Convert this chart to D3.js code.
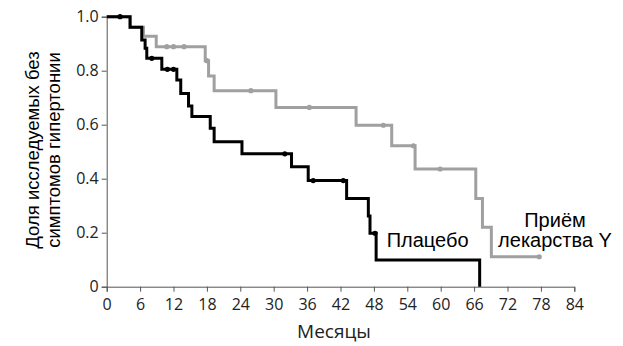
<!DOCTYPE html>
<html>
<head>
<meta charset="utf-8">
<script src="https://cdn.jsdelivr.net/npm/d3@7"></script>
<style>
  html, body { margin: 0; padding: 0; background: #fff; }
  svg { display: block; }
</style>
</head>
<body>
<svg id="chart" width="623" height="346"></svg>
<script>
// Kaplan–Meier steps: [month, proportion after the event]
const placeboSteps = [
  [0, 1.0], [4.2, 0.961], [6.3, 0.914], [6.9, 0.883], [7.2, 0.846],
  [9.9, 0.805], [12.6, 0.766], [13.3, 0.716], [14.7, 0.669], [15.3, 0.63],
  [18.6, 0.587], [19.3, 0.537], [24.3, 0.492], [33.2, 0.444], [36.2, 0.393],
  [43.1, 0.327], [47.0, 0.262], [47.3, 0.198], [48.4, 0.099], [67.0, 0]
];
const placeboCensored = [2.4, 8.1, 10.9, 12.0, 32.0, 37.1, 42.5, 48.2];

const drugSteps = [
  [0, 1.0], [4.2, 0.961], [6.6, 0.928], [8.9, 0.889], [17.7, 0.837],
  [18.3, 0.78], [19.3, 0.726], [30.4, 0.664], [44.8, 0.598], [51.2, 0.522],
  [55.4, 0.436], [66.3, 0.327], [67.5, 0.22], [69.1, 0.111]
];
const drugCensored = [10.8, 12.0, 13.9, 18.0, 25.9, 36.4, 49.7, 55.1, 59.9, 77.7];
const drugEnd = 77.7;

const xTicks = [0, 6, 12, 18, 24, 30, 36, 42, 48, 54, 60, 66, 72, 78, 84];
const yTicks = [0, 0.2, 0.4, 0.6, 0.8, 1.0];
const yTickLabels = ["0", "0.2", "0.4", "0.6", "0.8", "1.0"];

const svg = d3.select("#chart");
const x = d3.scaleLinear().domain([0, 84]).range([106.7, 574.3]);
const y = d3.scaleLinear().domain([0, 1]).range([286.7, 16.7]);

const tickFont = "'Open Sans', sans-serif";
const labelFont = "'Liberation Sans', Arial, sans-serif";

// axes
const xAxis = svg.append("g")
  .attr("transform", `translate(0,${y(0)})`)
  .call(d3.axisBottom(x).tickValues(xTicks).tickSize(5).tickPadding(6.5).tickFormat(d3.format("d")));
const yAxis = svg.append("g")
  .attr("transform", `translate(${x(0)},0)`)
  .call(d3.axisLeft(y).tickValues(yTicks).tickSize(5).tickPadding(3)
    .tickFormat((d, i) => yTickLabels[i]));
[xAxis, yAxis].forEach(g => {
  g.select(".domain").attr("stroke", "#555").attr("stroke-width", 1);
  g.selectAll(".tick line").attr("stroke", "#555");
  g.selectAll(".tick text").attr("fill", "#222")
    .style("font-family", tickFont).style("font-size", "16px");
});

// step path helper: value held until the next event time
function stepPoints(steps, endTime) {
  const pts = [];
  steps.forEach((s, i) => {
    if (i > 0) pts.push([s[0], steps[i - 1][1]]);
    pts.push(s);
  });
  if (endTime !== undefined) pts.push([endTime, steps[steps.length - 1][1]]);
  return pts;
}
function levelAt(steps, t) {
  let v = steps[0][1];
  steps.forEach(s => { if (s[0] <= t) v = s[1]; });
  return v;
}
const line = d3.line().x(d => x(d[0])).y(d => y(d[1]));

function drawCurve(steps, endTime, censored, color) {
  svg.append("path")
    .attr("d", line(stepPoints(steps, endTime)))
    .attr("fill", "none")
    .attr("stroke", color)
    .attr("stroke-width", 3)
    .attr("stroke-linejoin", "miter");
  svg.append("g").selectAll("circle")
    .data(censored)
    .join("circle")
    .attr("cx", d => x(d))
    .attr("cy", d => y(levelAt(steps, d)))
    .attr("r", 2.6)
    .attr("fill", color);
}

drawCurve(drugSteps, drugEnd, drugCensored, "#a0a0a0");
drawCurve(placeboSteps, undefined, placeboCensored, "#000");

// curve labels
svg.append("text")
  .attr("x", x(50.3)).attr("y", 247)
  .style("font-family", labelFont).style("font-size", "20px")
  .attr("fill", "#000")
  .text("Плацебо");
const drugLabel = svg.append("text")
  .style("font-family", labelFont).style("font-size", "20px")
  .attr("fill", "#000")
  .attr("text-anchor", "middle");
drugLabel.append("tspan").attr("x", 555).attr("y", 226.5).text("Приём");
drugLabel.append("tspan").attr("x", 555).attr("y", 247).text("лекарства Y");

// axis titles
svg.append("text")
  .attr("x", 334).attr("y", 338)
  .attr("text-anchor", "middle")
  .style("font-family", tickFont).style("font-size", "19px")
  .attr("fill", "#222")
  .text("Месяцы");

const yTitle = svg.append("text")
  .attr("transform", "translate(0,150) rotate(-90)")
  .attr("text-anchor", "middle")
  .style("font-family", labelFont).style("font-size", "18.5px")
  .attr("fill", "#000");
yTitle.append("tspan").attr("x", 0).attr("y", 39).text("Доля исследуемых без");
yTitle.append("tspan").attr("x", 0).attr("y", 59.5).text("симптомов гипертонии");
</script>
</body>
</html>
